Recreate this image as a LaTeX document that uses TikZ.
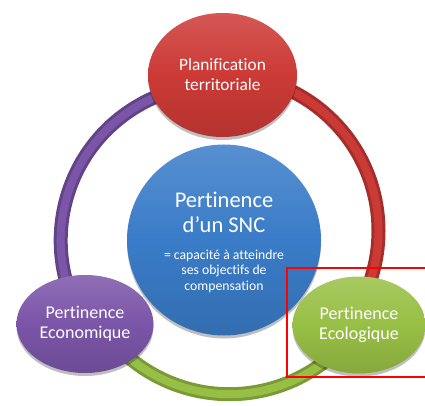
\documentclass[tikz,border=0pt]{standalone}
\usepackage{fontspec}
\setmainfont[Ligatures=NoCommon]{Carlito}
\usetikzlibrary{shapes.geometric,shadows}
\definecolor{cred}{HTML}{CC3A36}
\definecolor{cpurple}{HTML}{7B55A8}
\definecolor{cgreen}{HTML}{98BF45}
\definecolor{cblue}{HTML}{3A7CC8}
\pgfdeclarelayer{bg}
\pgfsetlayers{bg,main}
\tikzset{
  bubble/.style={ellipse, inner sep=0pt, text=white, align=center,
    drop shadow={shadow xshift=0pt, shadow yshift=-3pt, opacity=0.25, fill=black}},
  ring/.style={line width=14pt, draw=#1!80!black},
  ringhi/.style={line width=8pt, draw=#1},
}
\begin{document}
\begin{tikzpicture}[x=1pt,y=-1pt]
\useasboundingbox (0,0) rectangle (425,406);
\coordinate (rc) at (224,236);
\node[bubble, top color=cred!85!white, bottom color=cred!88!black, middle color=cred, minimum width=149pt, minimum height=124pt, font=\fontsize{17.3}{20}\selectfont] (top) at (222.5,75) {Planification\\territoriale};
\node[bubble, top color=cpurple!85!white, bottom color=cpurple!88!black, middle color=cpurple, minimum width=137pt, minimum height=98pt, font=\fontsize{18}{20}\selectfont] (eco) at (85,324) {Pertinence\\Economique};
\node[bubble, top color=cgreen!85!white, bottom color=cgreen!88!black, middle color=cgreen, minimum width=133pt, minimum height=97pt, font=\fontsize{18}{20}\selectfont] (ecol) at (359,325) {Pertinence\\Ecologique};
\node[bubble, top color=cblue!85!white, bottom color=cblue!88!black, middle color=cblue, minimum width=194pt, minimum height=191pt] (snc) at (224,240) {};
\node[text=white, align=center, font=\fontsize{22.5}{25}\selectfont] (snct) at (224,212) {Pertinence\\d’un SNC};
\node[text=white, align=center, font=\fontsize{13.7}{15.6}\selectfont] (sncs) at (224,271) {= capacité à atteindre\\ses objectifs de\\compensation};
\begin{pgfonlayer}{bg}
  \fill[white] (0,0) rectangle (425,406);
  \draw[ring=cred] (top.center) arc[start angle=270, end angle=393.8, radius=156];
  \draw[ringhi=cred] (top.center) arc[start angle=270, end angle=393.8, radius=156];
  \draw[ring=cgreen] (ecol.center) arc[start angle=33.8, end angle=147.6, radius=156];
  \draw[ringhi=cgreen] (ecol.center) arc[start angle=33.8, end angle=147.6, radius=156];
  \draw[ring=cpurple] (eco.center) arc[start angle=147.6, end angle=270, radius=156];
  \draw[ringhi=cpurple] (eco.center) arc[start angle=147.6, end angle=270, radius=156];
\end{pgfonlayer}
\draw[red, line width=1.5pt] (287,268) rectangle (430,377);
\end{tikzpicture}
\end{document}
